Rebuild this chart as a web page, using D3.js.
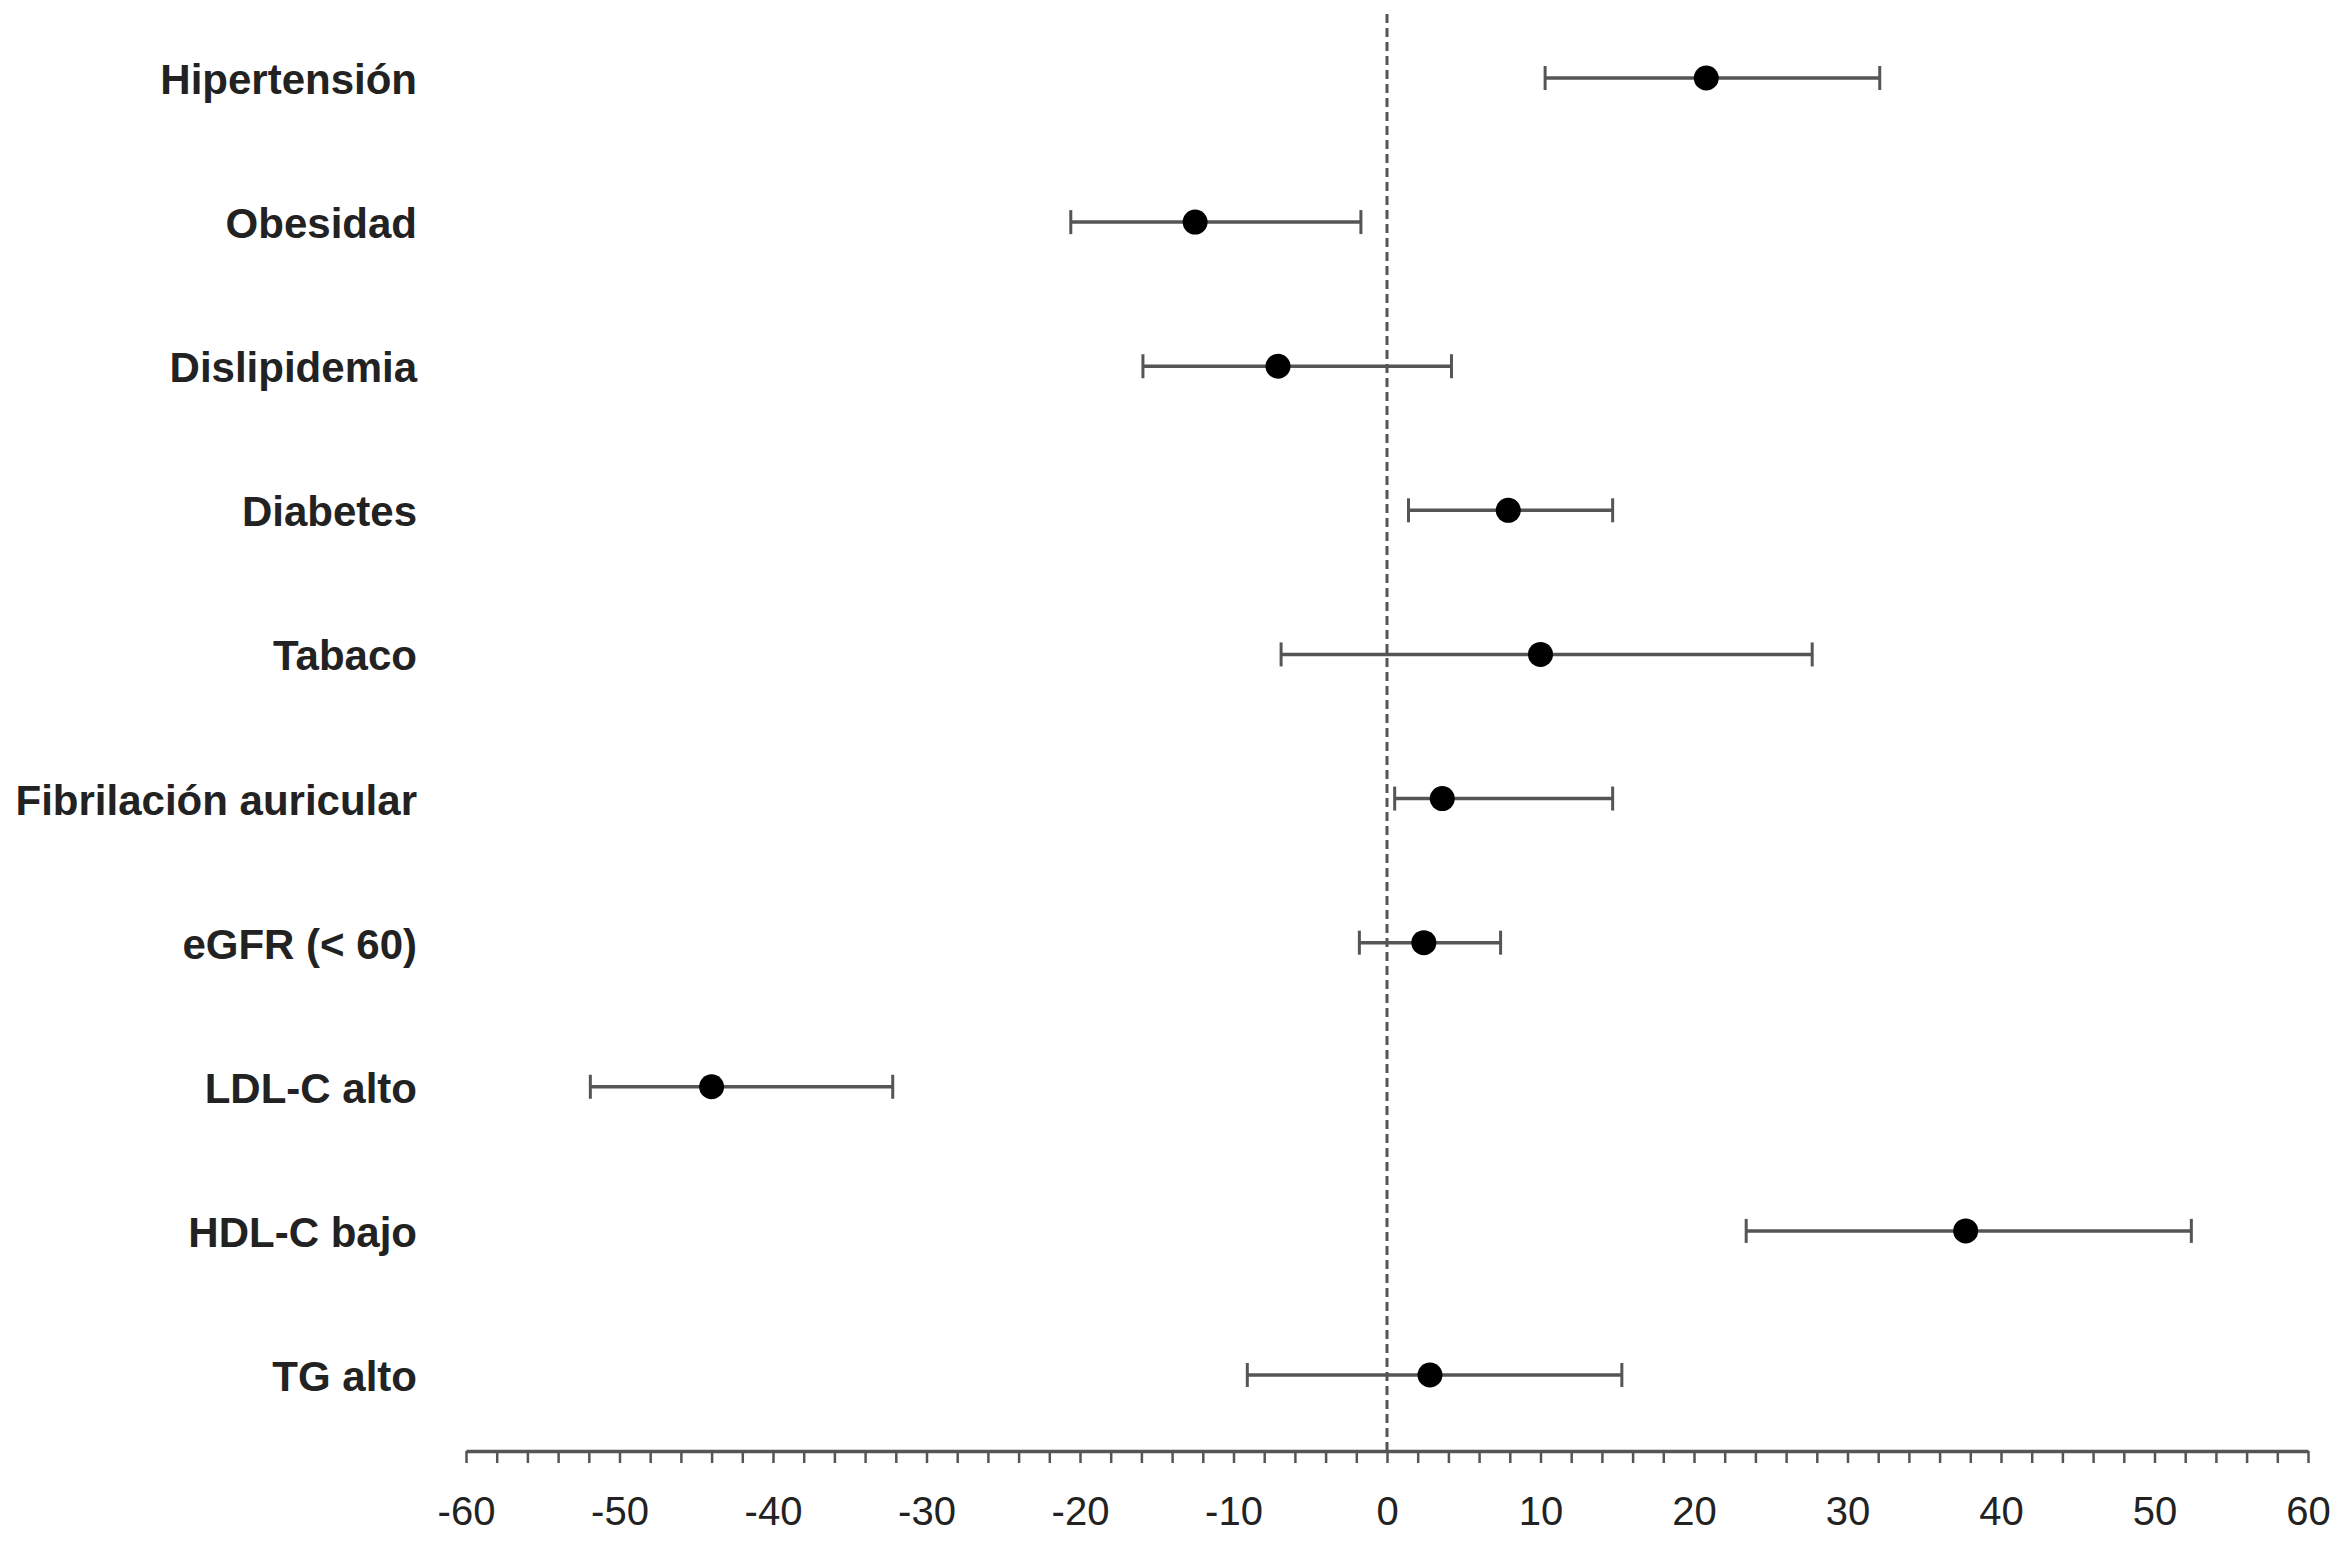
<!DOCTYPE html>
<html>
<head>
<meta charset="utf-8">
<script src="https://cdn.jsdelivr.net/npm/d3@7"></script>
<style>
  html, body { margin: 0; padding: 0; background: #fff; }
  svg { display: block; }
</style>
</head>
<body>
<svg id="chart" width="2341" height="1541"></svg>
<script>
const categories = ["Hipertensión", "Obesidad", "Dislipidemia", "Diabetes", "Tabaco",
  "Fibrilación auricular", "eGFR (< 60)", "LDL-C alto", "HDL-C bajo", "TG alto"];
const estimates = [20.8, -12.5, -7.1, 7.9, 10.0, 3.6, 2.4, -44.0, 37.7, 2.8];
const lowerCI   = [10.3, -20.6, -15.9, 1.4, -6.9, 0.5, -1.8, -51.9, 23.4, -9.1];
const upperCI   = [32.1, -1.7, 4.2, 14.7, 27.7, 14.7, 7.4, -32.2, 52.4, 15.3];
const tickValues = d3.range(-60, 61, 2);
const labelTicks = d3.range(-60, 61, 10);

const data = categories.map((c, i) => ({ cat: c, est: estimates[i], lo: lowerCI[i], hi: upperCI[i] }));

const svg = d3.select("#chart");
const x = d3.scaleLinear().domain([-60, 60]).range([466, 2308]);
const y = d3.scalePoint().domain(categories).range([78, 1375]);
const axisY = 1451;

// zero reference line
svg.append("line")
  .attr("x1", x(0)).attr("x2", x(0))
  .attr("y1", 14).attr("y2", axisY)
  .attr("stroke", "#555").attr("stroke-width", 3)
  .attr("stroke-dasharray", "9,5");

// x axis
const axis = d3.axisBottom(x)
  .tickValues(tickValues)
  .tickSize(12)
  .tickSizeOuter(0)
  .tickFormat(d => labelTicks.includes(d) ? String(d) : "");
const gx = svg.append("g").attr("transform", `translate(0,${axisY})`).call(axis);
gx.select(".domain").attr("stroke", "#555").attr("stroke-width", 3.5);
gx.selectAll(".tick line").attr("stroke", "#555").attr("stroke-width", 2.5);
gx.selectAll(".tick text")
  .attr("y", 74).attr("dy", null)
  .attr("fill", "#222")
  .style("font-family", "'Liberation Sans', Arial, sans-serif")
  .style("font-size", "40px");

// category labels
svg.append("g").selectAll("text").data(data).join("text")
  .attr("x", 417)
  .attr("y", d => y(d.cat) + 16)
  .attr("text-anchor", "end")
  .attr("fill", "#222")
  .style("font-family", "'Liberation Sans', Arial, sans-serif")
  .style("font-weight", "bold")
  .style("font-size", "42px")
  .text(d => d.cat);

// error bars
const g = svg.append("g");
g.selectAll("line.ci").data(data).join("line").attr("class", "ci")
  .attr("x1", d => x(d.lo)).attr("x2", d => x(d.hi))
  .attr("y1", d => y(d.cat)).attr("y2", d => y(d.cat))
  .attr("stroke", "#555").attr("stroke-width", 3.5);
g.selectAll("line.caplo").data(data).join("line").attr("class", "caplo")
  .attr("x1", d => x(d.lo)).attr("x2", d => x(d.lo))
  .attr("y1", d => y(d.cat) - 12).attr("y2", d => y(d.cat) + 12)
  .attr("stroke", "#555").attr("stroke-width", 3);
g.selectAll("line.caphi").data(data).join("line").attr("class", "caphi")
  .attr("x1", d => x(d.hi)).attr("x2", d => x(d.hi))
  .attr("y1", d => y(d.cat) - 12).attr("y2", d => y(d.cat) + 12)
  .attr("stroke", "#555").attr("stroke-width", 3);
g.selectAll("circle").data(data).join("circle")
  .attr("cx", d => x(d.est)).attr("cy", d => y(d.cat))
  .attr("r", 12.5).attr("fill", "#000");
</script>
</body>
</html>
